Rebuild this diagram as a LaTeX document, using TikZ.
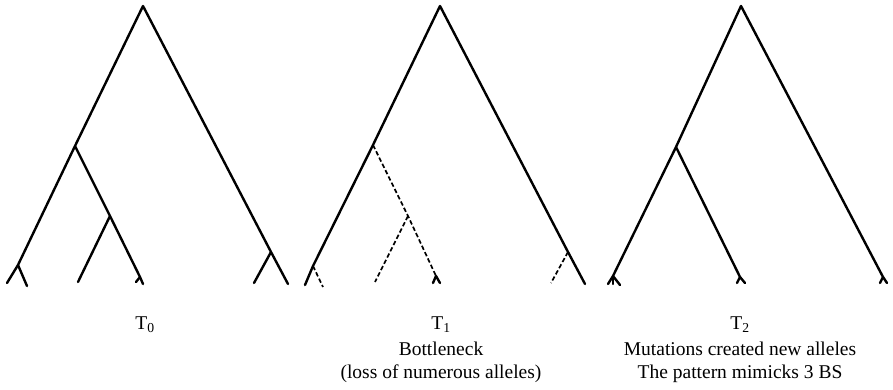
\documentclass[tikz,border=0pt]{standalone}
\usepackage{fontspec}
\setmainfont{Liberation Serif}
\begin{document}
\begin{tikzpicture}[x=1pt,y=-1pt,
  br/.style={line width=2.4pt,line cap=round,line join=round},
  lost/.style={line width=1.7pt,dash pattern=on 4.5pt off 2.5pt},
  lbl/.style={anchor=base,inner sep=0pt,font=\fontsize{19.5}{22}\selectfont}]
\useasboundingbox (0,0) rectangle (893,390);
% ---------- T0 ----------
\coordinate (a0) at (143,6);
\coordinate (n0) at (75,146);
\coordinate (f0) at (18,265);
\coordinate (l0a) at (7,283);
\coordinate (l0b) at (27,286);
\coordinate (m0) at (110,216);
\coordinate (l0c) at (78,282);
\coordinate (t0) at (140,277);
\coordinate (l0d) at (143,284);
\coordinate (l0e) at (136,282);
\coordinate (r0) at (271,252);
\coordinate (l0f) at (254,283);
\coordinate (l0g) at (288,284);
\draw[br] (l0a) -- (f0) -- (n0) -- (a0) -- (r0) -- (l0g);
\draw[br] (f0) -- (l0b);
\draw[br] (n0) -- (m0) -- (t0) -- (l0d);
\draw[br] (t0) -- (l0e);
\draw[br] (m0) -- (l0c);
\draw[br] (r0) -- (l0f);
% ---------- T1 ----------
\coordinate (a1) at (440,6);
\coordinate (n1) at (373,145);
\coordinate (f1) at (313,266);
\coordinate (l1a) at (305,285);
\coordinate (l1b) at (323,287);
\coordinate (m1) at (408,216);
\coordinate (l1c) at (375,282);
\coordinate (t1) at (436,276);
\coordinate (l1d) at (440,283);
\coordinate (l1e) at (433,283);
\coordinate (r1) at (568,252);
\coordinate (l1f) at (551,283);
\coordinate (l1g) at (585,284);
\draw[br] (l1a) -- (f1) -- (n1) -- (a1) -- (r1) -- (l1g);
\draw[lost] (f1) -- (l1b);
\draw[lost] (n1) -- (m1) -- (t1);
\draw[lost] (m1) -- (l1c);
\draw[lost] (r1) -- (l1f);
\draw[br] (t1) -- (l1d);
\draw[br] (t1) -- (l1e);
% ---------- T2 ----------
\coordinate (a2) at (741,6);
\coordinate (n2) at (676,147);
\coordinate (f2) at (613,276);
\coordinate (l2a) at (608,284);
\coordinate (l2b) at (613,284);
\coordinate (l2c) at (620,285);
\coordinate (t2) at (740,277);
\coordinate (l2d) at (737,283);
\coordinate (l2e) at (745,283);
\coordinate (r2) at (883,277);
\coordinate (l2f) at (880,283);
\coordinate (l2g) at (887,283);
\draw[br] (f2) -- (n2) -- (a2) -- (r2);
\draw[br] (l2a) -- (f2) -- (l2c);
\draw[br] (f2) -- (l2b);
\draw[br] (n2) -- (t2);
\draw[br] (l2d) -- (t2) -- (l2e);
\draw[br] (l2f) -- (r2) -- (l2g);
% ---------- labels ----------
\node[lbl] (c0) at (145,329) {T\textsubscript{0}};
\node[lbl] (c1) at (441,329) {T\textsubscript{1}};
\node[lbl] (d1) at (441,355) {Bottleneck};
\node[lbl] (e1) at (441,378) {(loss of numerous alleles)};
\node[lbl] (c2) at (740,329) {T\textsubscript{2}};
\node[lbl] (d2) at (740,355) {Mutations created new alleles};
\node[lbl] (e2) at (740,378) {The pattern mimicks 3 BS};
\end{tikzpicture}
\end{document}
